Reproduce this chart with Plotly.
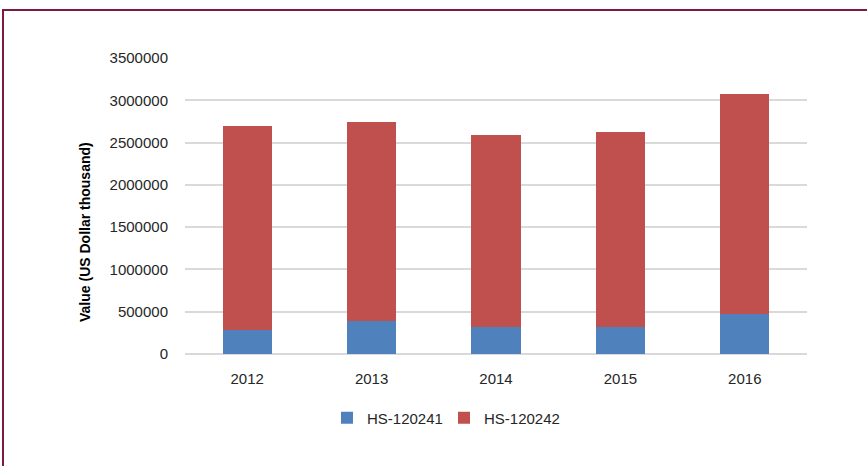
import plotly.graph_objects as go

years = ["2012", "2013", "2014", "2015", "2016"]
hs_120241 = [278000, 390000, 322000, 322000, 476000]
hs_120242 = [2417000, 2353000, 2263000, 2306000, 2599000]
y_ticks = [0, 500000, 1000000, 1500000, 2000000, 2500000, 3000000, 3500000]

FONT = "Liberation Sans, Arial, sans-serif"

fig = go.Figure()
fig.add_trace(go.Bar(x=years, y=hs_120241, name="HS-120241",
                     marker=dict(color="#4F81BD", line=dict(width=0))))
fig.add_trace(go.Bar(x=years, y=hs_120242, name="HS-120242",
                     marker=dict(color="#C0504D", line=dict(width=0))))

L, R, T, B = 185, 60, 58, 112
W, H = 867, 466
pw, ph = W - L - R, H - T - B

fig.update_layout(
    width=W, height=H,
    barmode="stack", bargap=0.606,
    margin=dict(l=L, r=R, t=T, b=B),
    paper_bgcolor="white", plot_bgcolor="white",
    font=dict(family=FONT, size=15, color="#262626"),
    showlegend=True,
    legend=dict(orientation="h", x=(444 - L) / pw, xanchor="center",
                y=(H - B - 418) / ph, yanchor="middle",
                font=dict(size=15), traceorder="normal", itemwidth=30,
                entrywidth=72),
    xaxis=dict(showgrid=False, showline=False, ticks="", tickfont=dict(size=15),
               ticklabelstandoff=14),
    yaxis=dict(range=[0, 3500000], tickvals=y_ticks, ticktext=[str(v) for v in y_ticks],
               showgrid=True, gridcolor="#D9D9D9", gridwidth=1.5,
               zeroline=True, zerolinecolor="#D9D9D9", zerolinewidth=1.5,
               ticks="", ticklabelstandoff=16, tickfont=dict(size=15)),
    annotations=[dict(text="<b>Value (US Dollar thousand)</b>", textangle=-90,
                      xref="paper", yref="paper",
                      x=(85 - L) / pw, y=(H - B - 232) / ph,
                      xanchor="center", yanchor="middle", showarrow=False,
                      font=dict(size=14, color="#000000"))],
    shapes=[dict(type="rect", xref="paper", yref="paper",
                 x0=(3 - L) / pw, x1=(W + 20 - L) / pw,
                 y0=-(B + 20) / ph, y1=1 + (T - 10) / ph,
                 line=dict(color="#7B1A45", width=2), layer="below")],
)

fig.write_html("out.html", config={"displayModeBar": False},
               post_script="document.body.style.margin='0';")
